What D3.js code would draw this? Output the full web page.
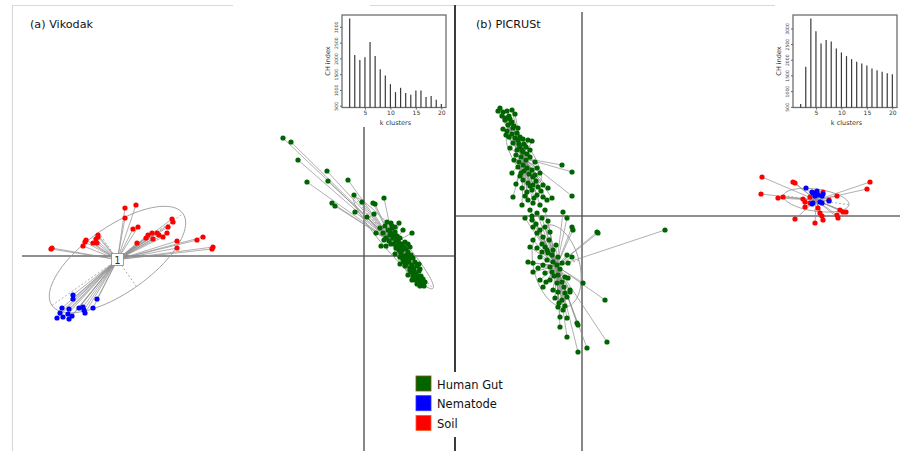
<!DOCTYPE html>
<html>
<head>
<meta charset="utf-8">
<script src="https://cdn.jsdelivr.net/npm/d3@7"></script>
<style>
  body { margin: 0; background: #fff; }
  svg { display: block; font-family: "DejaVu Sans", sans-serif; }
</style>
</head>
<body>
<div id="chart"></div>
<script>
// CH index by number of k-means clusters (insets)
var kValues = [2, 3, 4, 5, 6, 7, 8, 9, 10, 11, 12, 13, 14, 15, 16, 17, 18, 19, 20];
var vikodakCH = [3266, 2109, 1951, 2036, 2519, 2077, 1658, 1456, 1184, 932, 1068, 900, 847, 983, 983, 774, 806, 689, 553];
var picrustCH = [586, 1776, 3319, 2913, 2522, 2627, 2585, 2362, 2234, 2117, 2021, 1935, 1883, 1818, 1722, 1668, 1615, 1573, 1541];
var histYTicks = [500, 1000, 1500, 2000, 2500, 3000];
var histXTicks = [5, 10, 15, 20];

var groupNames = ['Human Gut', 'Nematode', 'Soil'];
var groupColors = ['#006400', '#0000ff', '#ff0000'];

// (a) Vikodak ordination scores
var vikodakSoil = [[-23.9,4.8],[-22.8,5.1],[-23.9,3.8],[-23.1,2.7],[-22.6,2.9],[-19.2,3.7],[-19.1,3.4],[-19.6,2.9],
  [-21.2,2.3],[-20.7,2.3],[-20.5,2.1],[-19.7,2.3],[-20.1,1.9],[-21.8,1.8],[-21.1,1.7],[-22.7,1.3],[-18.7,1.5],
  [-16.7,1.6],[-16.1,1.9],[-18.7,0.8],[-15.1,0.9],[-15.2,0.7],[-31.2,0.8],[-31.3,0.7],[-28.1,1.0],[-27.1,1.3],
  [-27.8,1.6],[-27.9,1.4],[-26.6,2.1],[-26.6,1.9],[-26.8,1.7],[-26.7,1.3],[-21.6,2.1]];
var vikodakNematode = [[-29.1,-3.9],[-29.1,-4.3],[-26.7,-4.3],[-30.2,-5.2],[-29.5,-5.3],[-28.5,-5.2],[-28.1,-5.1],
  [-28.0,-5.4],[-27.9,-5.7],[-27.1,-5.2],[-30.4,-5.7],[-29.6,-5.8],[-29.2,-6.0],[-30.1,-6.1],[-30.7,-6.2],[-29.5,-6.3]];
var vikodakGut = [[-8.1,11.8],[-7.3,11.4],[-6.6,9.6],[-5.7,7.4],[-3.7,8.5],[-3.6,7.5],[-1.6,7.6],[-3.2,5.3],[-2.9,5.0],
  [-1.0,6.1],[-0.2,5.4],[-0.9,4.4],[0.3,3.9],[0.9,5.3],[1.1,5.2],[2.0,5.8],[1.0,4.2],[1.2,2.3],[1.7,1.0],[4.8,2.3],
  [2.7,3.3],[3.5,3.3],[3.1,2.9],[3.9,2.6],
  [1.6,2.8],[2.1,3.0],[2.4,2.6],[1.9,2.3],[2.6,2.1],[2.2,1.8],[2.8,2.8],[3.1,2.4],[2.9,1.8],[2.5,1.5],[3.3,2.0],
  [3.4,1.5],[3.0,1.2],[3.6,1.8],[3.8,1.2],[3.2,0.8],[3.5,0.6],[3.9,0.8],[4.1,1.4],[4.2,0.7],[3.7,0.3],[4.0,0.0],
  [4.4,0.4],[4.6,0.9],[4.3,-0.2],[4.7,0.1],[3.9,-0.4],[4.5,-0.6],[4.9,-0.2],[4.2,-0.8],[4.8,-0.9],[5.1,-0.6],
  [4.6,-1.2],[5.0,-1.4],[5.3,-1.0],[4.7,-1.6],[5.2,-1.8],[5.5,-1.5],[4.9,-2.0],[5.4,-2.2],[5.7,-2.0],[5.1,-2.4],
  [5.6,-2.5],[5.9,-2.3],[5.3,-2.8],[5.8,-2.8],[6.1,-2.6],[4.4,1.2],[3.4,1.0],[2.7,1.2],[2.2,1.0],[3.6,-0.1],
  [4.1,-1.0],[5.5,-0.8],[3.1,0.2],[4.8,-2.4],[3.6,-0.8],[2.8,3.0],[2.3,3.4],[2.0,1.6],[5.6,-1.3],[4.4,-1.9],
  [3.2,1.6],[3.8,0.6],[4.3,0.1],[4.9,-1.2],[5.3,-2.0],[3.5,1.3],[4.5,-0.2],[4.0,-0.6],[5.6,-3.0],[6.0,-3.0],
  [3.0,2.2],[3.7,1.0],[4.4,-0.4],[5.0,-1.7],[5.4,-2.5],[2.6,2.4],[4.0,0.9],[4.6,-1.4]];
// cluster ellipse stats: [semi-major, semi-minor, angle (deg)]
var vikodakEllipses = [[8.0, 3.3, 35], [6.0, 0.9, -49]];

// (b) PICRUSt ordination scores
var picrustSoil = [[18.0,3.9],[21.1,3.4],[21.3,3.3],[17.9,2.2],[19.6,1.8],[20.1,1.9],[22.1,1.7],[22.3,0.9],[22.8,1.9],
  [23.3,2.3],[23.6,0.8],[23.8,0.3],[24.0,0.0],[24.1,-0.4],[23.3,-0.7],[21.3,-0.3],[25.5,2.0],[25.8,0.6],[26.1,0.4],
  [26.4,0.4],[25.5,0.1],[25.6,-0.2],[28.8,3.4],[28.5,2.7],[24.7,1.6],[22.3,1.4],[24.1,2.4],[22.8,1.3]];
var picrustNematode = [[22.4,2.8],[23.0,2.4],[23.1,2.3],[23.5,2.5],[23.6,2.1],[24.0,2.0],[24.1,2.2],[23.3,2.0],
  [23.8,1.4],[23.1,1.3],[24.0,1.3],[24.7,1.5],[23.0,1.2],[23.5,2.3]];
var picrustGutUpper = [[-8.2,10.8],[-8.4,10.5],[-7.9,10.4],[-7.5,10.5],[-7.3,10.0],[-6.7,10.2],[-7.7,9.6],[-7.0,9.4],
  [-7.4,9.1],[-7.1,9.3],[-7.9,8.7],[-6.9,8.8],[-7.6,8.1],[-7.3,7.9],[-6.7,7.8],[-6.4,7.6],[-6.9,7.3],[-6.2,6.9],
  [-6.5,6.6],[-5.4,7.6],[-5.0,7.5],[-5.9,6.4],[-5.2,6.6],[-7.2,6.8],[-6.6,6.1],[-6.1,5.9],[-5.6,5.6],[-4.7,5.4],
  [-5.9,5.1],[-6.4,4.9],[-7.0,4.3],[-5.5,4.8],[-5.0,4.6],[-4.5,4.8],[-4.9,3.9],[-4.2,4.3],[-2.0,5.1],[-1.0,4.4],
  [-5.9,3.6],[-5.4,3.3],[-4.9,3.1],[-4.4,2.9],[-3.9,3.1],[-3.4,2.8],[-6.0,2.8],[-5.5,2.4],[-5.0,2.6],[-4.5,2.1],
  [-3.9,1.9],[-6.9,1.9],[-6.0,1.1],[-5.4,1.6],[-4.9,1.3],[-4.2,1.1],[-3.5,1.6],[-3.0,1.8],[-1.0,2.0],
  [-8.0,10.0],[-7.6,9.8],[-7.2,9.7],[-6.8,9.0],[-7.5,8.5],[-7.0,8.2],[-6.5,8.3],[-6.2,7.9],[-5.8,7.2],[-6.3,7.2],
  [-5.6,6.9],[-6.0,6.6],[-5.5,6.2],[-6.8,5.6],[-6.3,5.4],[-5.2,5.9],[-5.8,4.5],[-5.3,4.2],[-4.7,4.1],[-6.2,4.0],
  [-4.6,3.5],[-5.2,3.0],[-4.1,2.5],[-5.7,2.0],[-4.8,1.8],[-6.6,3.2],[-6.4,8.8],[-7.0,10.6],[-5.9,7.7],[-6.1,4.3]];
var picrustGutLower = [[-5.2,0.6],[-4.5,0.3],[-5.7,-0.2],[-5.0,-0.4],[-3.7,0.6],[-1.9,0.4],[-4.9,-1.1],[-4.2,-1.4],
  [-3.7,-1.1],[-3.2,-1.6],[-4.5,-1.7],[-3.9,-2.1],[-3.3,-2.4],[-4.9,-2.4],[-1.5,-0.2],[-1.0,-1.1],[-0.9,-1.4],
  [-5.2,-3.1],[-4.5,-3.2],[-4.0,-3.6],[-3.7,-3.1],[-3.4,-3.7],[-2.9,-3.4],[1.5,-1.6],[1.6,-1.7],[-4.2,-4.1],
  [-3.5,-4.4],[-2.9,-4.6],[-2.4,-4.1],[-1.5,-3.9],[-1.0,-4.1],[-5.4,-4.6],[-4.9,-4.7],[-3.9,-4.9],[-3.2,-5.1],
  [-2.5,-4.9],[-2.0,-4.7],[-1.4,-4.7],[-4.9,-5.6],[-3.7,-5.7],[-3.0,-5.6],[-2.4,-5.9],[-1.7,-6.1],[-3.2,-6.4],
  [-2.5,-6.7],[-2.0,-6.6],[-1.4,-6.2],[-2.9,-7.4],[-2.4,-7.6],[-1.7,-7.7],[-1.2,-7.6],[0.1,-6.7],[-2.7,-8.2],
  [-2.0,-8.4],[-1.5,-8.1],[-2.4,-9.1],[-1.9,-9.4],[-2.2,-10.1],[-1.5,-10.2],[-0.5,-10.7],[-0.4,-10.9],[-2.2,-11.1],
  [2.3,-8.4],[-1.5,-12.1],[-0.4,-13.6],[0.5,-13.2],[2.5,-12.6],[-1.2,-7.4],[-3.9,-7.1],[-4.2,-6.4],[-3.5,-3.4],
  [8.3,-1.4],[-4.6,-0.8],[-3.4,-0.5],[-4.0,-2.8],[-2.6,-2.9],[-3.0,-3.9],[-2.2,-5.3],[-2.8,-6.0],[-1.8,-7.1],
  [-2.3,-8.7],[-1.7,-9.0],[-4.4,-5.2],[-3.6,-6.6],[-5.0,0.0],[-4.0,-0.2]];
var picrustEllipses = [[2.9, 1.0, -58], [4.2, 2.3, -76], [3.3, 1.1, -8]];

var width = 905, height = 451;
var svg = d3.select('#chart').append('svg')
  .attr('width', width).attr('height', height)
  .style('background', '#fff');

// light frame of the figure
svg.append('line').attr('x1', 12.5).attr('x2', 12.5).attr('y1', 5).attr('y2', 451)
  .attr('stroke', '#d9d9d9').attr('stroke-width', 1.2);
svg.append('line').attr('x1', 12).attr('x2', 233).attr('y1', 5.5).attr('y2', 5.5)
  .attr('stroke', '#d9d9d9').attr('stroke-width', 1.2);
svg.append('line').attr('x1', 370).attr('x2', 775).attr('y1', 5.5).attr('y2', 5.5)
  .attr('stroke', '#d9d9d9').attr('stroke-width', 1.2);

function drawOrdination(g, x, y, clusters, ellipses, labels) {
  var centres = clusters.map(function (c) {
    var all = [].concat.apply([], c.map(function (s) { return s.pts; }));
    return [d3.mean(all, function (p) { return p[0]; }), d3.mean(all, function (p) { return p[1]; })];
  });

  // star lines from each sample to its cluster centre
  clusters.forEach(function (c, i) {
    c.forEach(function (s) {
      g.append('g').selectAll('line').data(s.pts).join('line')
        .attr('x1', function (d) { return x(d[0]); })
        .attr('y1', function (d) { return y(d[1]); })
        .attr('x2', x(centres[i][0]))
        .attr('y2', y(centres[i][1]))
        .attr('stroke', '#8e8e8e')
        .attr('stroke-width', 0.7);
    });
  });

  // ellipses with dashed axes
  ellipses.forEach(function (e, i) {
    var a = e[0], b = e[1], t = e[2] * Math.PI / 180;
    var c = centres[i];
    var pts = d3.range(0, 361, 4).map(function (deg) {
      var u = deg * Math.PI / 180;
      return [c[0] + a * Math.cos(u) * Math.cos(t) - b * Math.sin(u) * Math.sin(t),
              c[1] + a * Math.cos(u) * Math.sin(t) + b * Math.sin(u) * Math.cos(t)];
    });
    g.append('path')
      .attr('d', d3.line().x(function (d) { return x(d[0]); }).y(function (d) { return y(d[1]); })(pts))
      .attr('fill', 'none').attr('stroke', '#999').attr('stroke-width', 0.9);
    var axes = [[[c[0] - a * Math.cos(t), c[1] - a * Math.sin(t)], [c[0] + a * Math.cos(t), c[1] + a * Math.sin(t)]],
                [[c[0] + b * Math.sin(t), c[1] - b * Math.cos(t)], [c[0] - b * Math.sin(t), c[1] + b * Math.cos(t)]]];
    g.append('g').selectAll('line').data(axes).join('line')
      .attr('x1', function (d) { return x(d[0][0]); }).attr('y1', function (d) { return y(d[0][1]); })
      .attr('x2', function (d) { return x(d[1][0]); }).attr('y2', function (d) { return y(d[1][1]); })
      .attr('stroke', '#9a9a9a').attr('stroke-width', 0.8).attr('stroke-dasharray', '2,2');
  });

  // the sample points
  clusters.forEach(function (c) {
    c.forEach(function (s) {
      g.append('g').selectAll('circle').data(s.pts).join('circle')
        .attr('cx', function (d) { return x(d[0]); })
        .attr('cy', function (d) { return y(d[1]); })
        .attr('r', 2.6)
        .attr('fill', s.color);
    });
  });

  // cluster labels
  labels.forEach(function (lab, i) {
    if (!lab) return;
    var lx = x(centres[i][0]), ly = y(centres[i][1]);
    g.append('rect').attr('x', lx - 6).attr('y', ly - 6).attr('width', 12).attr('height', 12)
      .attr('fill', '#fff').attr('stroke', '#888').attr('stroke-width', 0.8);
    g.append('text').attr('x', lx).attr('y', ly + 4).attr('text-anchor', 'middle')
      .attr('font-size', 10).attr('fill', '#333').text(lab);
  });
}

function drawHist(g, values, x0, x1) {
  var x = d3.scaleLinear().domain([1.28, 20.72]).range([x0, x1]);
  var ext = d3.extent(values), pad = (ext[1] - ext[0]) * 0.04;
  var y = d3.scaleLinear().domain([ext[0] - pad, ext[1] + pad]).range([107.5, 15]);

  g.append('rect').attr('x', x0 - 4).attr('y', 15).attr('width', x1 - x0 + 5).attr('height', 92.5)
    .attr('fill', '#fff').attr('stroke', '#6e6e6e').attr('stroke-width', 1.3);

  g.append('g').selectAll('line').data(values).join('line')
    .attr('x1', function (d, i) { return x(kValues[i]); })
    .attr('x2', function (d, i) { return x(kValues[i]); })
    .attr('y1', y.range()[0])
    .attr('y2', function (d) { return y(d); })
    .attr('stroke', '#3a3a3a').attr('stroke-width', 1.2);

  var ya = g.append('g').attr('transform', 'translate(' + (x0 - 4) + ',0)')
    .call(d3.axisLeft(y).tickValues(histYTicks).tickFormat(d3.format('d')).tickSize(2).tickPadding(2));
  ya.select('.domain').remove();
  ya.selectAll('line').attr('stroke', '#666');
  ya.selectAll('text').attr('x', 0).attr('dy', 0).attr('text-anchor', 'middle')
    .attr('transform', 'translate(-4,0) rotate(-90)')
    .attr('font-size', 4.6).attr('fill', '#444').attr('font-family', '"DejaVu Sans", sans-serif');

  var xa = g.append('g').attr('transform', 'translate(0,107.5)')
    .call(d3.axisBottom(x).tickValues(histXTicks).tickSize(2).tickPadding(1.5));
  xa.select('.domain').remove();
  xa.selectAll('line').attr('stroke', '#666');
  xa.selectAll('text').attr('font-size', 6).attr('fill', '#333').attr('font-family', '"DejaVu Sans", sans-serif');

  g.append('text').attr('x', (x0 + x1) / 2).attr('y', 124.5).attr('text-anchor', 'middle')
    .attr('font-size', 6.5).attr('fill', '#333').text('k clusters');
  g.append('text').attr('transform', 'translate(' + (x0 - 16) + ',' + 61 + ') rotate(-90)')
    .attr('text-anchor', 'middle').attr('font-size', 6.5).attr('fill', '#333').text('CH index');
}

// ---- panel (a) Vikodak ----
var xa = d3.scaleLinear().domain([-35.2, 9.1]).range([12, 455]);
var ya = d3.scaleLinear().domain([-19.5, 25.1]).range([451, 5]);
var ga = svg.append('g');
ga.append('line').attr('x1', 22).attr('x2', 455).attr('y1', ya(0)).attr('y2', ya(0))
  .attr('stroke', '#6a6a6a').attr('stroke-width', 1.4);
ga.append('line').attr('x1', xa(0)).attr('x2', xa(0)).attr('y1', 127).attr('y2', 451)
  .attr('stroke', '#555').attr('stroke-width', 1.4);
drawOrdination(ga, xa, ya,
  [[{ pts: vikodakSoil, color: groupColors[2] }, { pts: vikodakNematode, color: groupColors[1] }],
   [{ pts: vikodakGut, color: groupColors[0] }]],
  vikodakEllipses, ['1', null]);
drawHist(ga, vikodakCH, 346, 445);
ga.append('text').attr('x', 30).attr('y', 28).attr('font-size', 11.2).attr('fill', '#111').text('(a) Vikodak');

// ---- panel (b) PICRUSt ----
var xb = d3.scaleLinear().domain([-12.7, 31.8]).range([455, 900]);
var yb = d3.scaleLinear().domain([-23.5, 21.1]).range([451, 5]);
var gb = svg.append('g');
gb.append('line').attr('x1', 455).attr('x2', 900).attr('y1', yb(0)).attr('y2', yb(0))
  .attr('stroke', '#6a6a6a').attr('stroke-width', 1.4);
gb.append('line').attr('x1', xb(0)).attr('x2', xb(0)).attr('y1', 12).attr('y2', 451)
  .attr('stroke', '#555').attr('stroke-width', 1.4);
drawOrdination(gb, xb, yb,
  [[{ pts: picrustGutUpper, color: groupColors[0] }],
   [{ pts: picrustGutLower, color: groupColors[0] }],
   [{ pts: picrustSoil, color: groupColors[2] }, { pts: picrustNematode, color: groupColors[1] }]],
  picrustEllipses, [null, null, null]);
drawHist(gb, picrustCH, 797, 896);
gb.append('text').attr('x', 476).attr('y', 28).attr('font-size', 11.2).attr('fill', '#111').text('(b) PICRUSt');

// divider between the two panels
svg.append('line').attr('x1', 455).attr('x2', 455).attr('y1', 5).attr('y2', 451)
  .attr('stroke', '#3c3c3c').attr('stroke-width', 2);

// legend
var legend = svg.append('g');
legend.append('rect').attr('x', 410).attr('y', 372).attr('width', 100).attr('height', 65).attr('fill', '#fff');
var rows = legend.selectAll('g.row').data(groupNames).join('g').attr('class', 'row')
  .attr('transform', function (d, i) { return 'translate(416,' + (376 + i * 19.7) + ')'; });
rows.append('rect').attr('width', 15).attr('height', 15)
  .attr('fill', function (d, i) { return groupColors[i]; })
  .attr('stroke', function (d, i) { return ['#7a5a10', '#3030ff', '#ff5a20'][i]; })
  .attr('stroke-width', 0.8);
rows.append('text').attr('x', 21).attr('y', 12.5).attr('font-size', 11.5).attr('fill', '#111')
  .text(function (d) { return d; });
</script>
</body>
</html>
